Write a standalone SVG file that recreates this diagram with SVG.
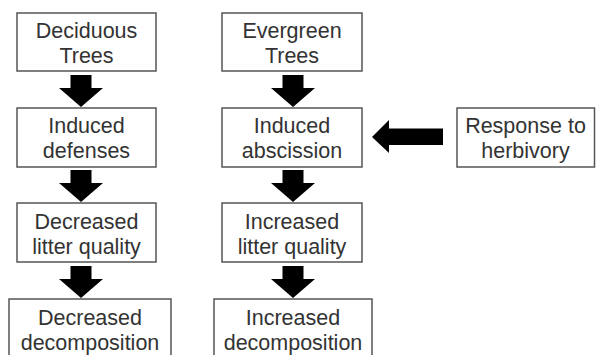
<svg xmlns="http://www.w3.org/2000/svg" width="596" height="355" viewBox="0 0 596 355">
  <style>
    .box { fill: #ffffff; stroke: #555555; stroke-width: 1.5; }
    .lbl { font-family: "Liberation Sans", Arial, sans-serif; font-size: 21.5px; fill: #333333; text-anchor: middle; }
    .arrow { fill: #000000; }
  </style>
  <defs>
    <!-- block arrow pointing down, tip at origin -->
    <path id="down" d="M-10.5,-32 H10.5 V-19 H22 L0,0 L-22,-19 H-10.5 Z"/>
  </defs>
  <rect width="596" height="355" fill="#ffffff"/>

  <g id="connectors" class="arrow">
    <use href="#down" x="81" y="107"/>
    <use href="#down" x="81" y="202"/>
    <use href="#down" x="81" y="298"/>
    <use href="#down" x="293" y="107"/>
    <use href="#down" x="293" y="202"/>
    <use href="#down" x="293" y="298"/>
    <path d="M372,137 L389,120 V128.5 H443 V145 H389 V153 Z"/>
  </g>

  <g id="deciduous-trees">
    <rect class="box" x="17" y="13" width="139" height="58"/>
    <text class="lbl" x="86.5" y="37.5">Deciduous</text>
    <text class="lbl" x="86.5" y="63">Trees</text>
  </g>
  <g id="induced-defenses">
    <rect class="box" x="17" y="108" width="139" height="59"/>
    <text class="lbl" x="86.5" y="133">Induced</text>
    <text class="lbl" x="86.5" y="158">defenses</text>
  </g>
  <g id="decreased-litter-quality">
    <rect class="box" x="17" y="203" width="139" height="59"/>
    <text class="lbl" x="86.5" y="229">Decreased</text>
    <text class="lbl" x="86.5" y="254">litter quality</text>
  </g>
  <g id="decreased-decomposition">
    <rect class="box" x="9" y="299" width="162" height="62"/>
    <text class="lbl" x="90" y="325">Decreased</text>
    <text class="lbl" x="90" y="350">decomposition</text>
  </g>

  <g id="evergreen-trees">
    <rect class="box" x="222" y="13" width="140" height="58"/>
    <text class="lbl" x="292" y="37.5">Evergreen</text>
    <text class="lbl" x="292" y="63">Trees</text>
  </g>
  <g id="induced-abscission">
    <rect class="box" x="222" y="108" width="140" height="59"/>
    <text class="lbl" x="292" y="133">Induced</text>
    <text class="lbl" x="292" y="158">abscission</text>
  </g>
  <g id="increased-litter-quality">
    <rect class="box" x="222" y="203" width="140" height="59"/>
    <text class="lbl" x="292" y="229">Increased</text>
    <text class="lbl" x="292" y="254">litter quality</text>
  </g>
  <g id="increased-decomposition">
    <rect class="box" x="214" y="299" width="158" height="62"/>
    <text class="lbl" x="293" y="325">Increased</text>
    <text class="lbl" x="293" y="350">decomposition</text>
  </g>

  <g id="response-to-herbivory">
    <rect class="box" x="457" y="108" width="137.5" height="59"/>
    <text class="lbl" x="525.5" y="133">Response to</text>
    <text class="lbl" x="525.5" y="158">herbivory</text>
  </g>
</svg>
